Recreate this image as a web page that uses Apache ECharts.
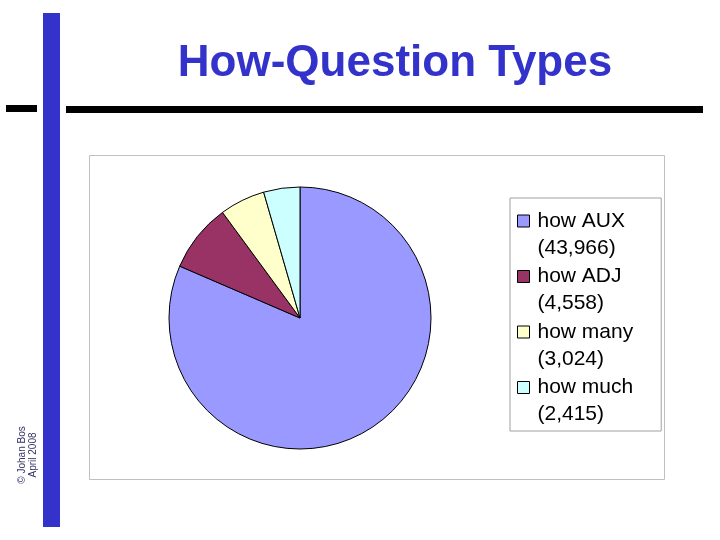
<!DOCTYPE html>
<html>
	<head>
		<meta charset="UTF-8">
		<title>How-Question Types</title>
		<script src="https://cdn.jsdelivr.net/npm/echarts@6/dist/echarts.min.js"></script>
		<style>
			html, body { margin: 0; padding: 0; background: #fff; }
			#main { width: 720px; height: 540px; }
		</style>
	</head>
	<body>
		<div id="main"></div>
		<script>
			// 数据
			var typeNames = ['how AUX', 'how ADJ', 'how many', 'how much'];
			var typeCounts = [43966, 4558, 3024, 2415];
			var typeColors = ['#9999FF', '#993366', '#FFFFCC', '#CCFFFF'];

			var pieData = [];
			for (var i = 0; i < typeNames.length; i++) {
				pieData.push({ name: typeNames[i], value: typeCounts[i], itemStyle: { color: typeColors[i] } });
			}

			function fmt(n) {
				return String(n).replace(/\B(?=(\d{3})+(?!\d))/g, ',');
			}

			var myChart = echarts.init(document.getElementById('main'));

			var option = {
				backgroundColor: '#fff',
				animation: false,
				title: {
					text: 'How-Question Types',
					left: 390,
					textAlign: 'center',
					top: 37,
					textStyle: {
						fontFamily: 'Liberation Sans, Arial, sans-serif',
						fontSize: 44,
						fontWeight: 'bold',
						color: '#3333CC'
					}
				},
				// 幻灯片装饰：竖条、横线、图表边框、版权
				graphic: [
					{ type: 'rect', shape: { x: 43, y: 13, width: 17, height: 514 }, style: { fill: '#3333CC' }, z: 1 },
					{ type: 'rect', shape: { x: 6, y: 105, width: 31, height: 7 }, style: { fill: '#000' } },
					{ type: 'rect', shape: { x: 66, y: 106, width: 637, height: 7 }, style: { fill: '#000' } },
					{ type: 'rect', shape: { x: 89.5, y: 155.5, width: 575, height: 324 }, style: { fill: 'none', stroke: '#c0c0c0', lineWidth: 1 }, z: 0 },
					{
						type: 'text', x: 28, y: 455, rotation: Math.PI / 2,
						style: {
							text: '\u00A9 Johan Bos\nApril 2008',
							fill: '#333366',
							font: '10px "Liberation Sans", Arial, sans-serif',
							align: 'center',
							verticalAlign: 'middle',
							lineHeight: 11
						}
					}
				],
				legend: {
					orient: 'vertical',
					left: 510,
					top: 198,
					padding: [-14, 28, 6, 7],
					itemGap: -19,
					itemWidth: 12,
					itemHeight: 12,
					icon: 'rect',
					borderColor: '#a0a0a0',
					borderWidth: 1,
					itemStyle: { borderColor: '#000', borderWidth: 1 },
					data: typeNames,
					formatter: function (name) {
						var idx = typeNames.indexOf(name);
						return '{e| }\n{a|' + name + '}\n{a|(' + fmt(typeCounts[idx]) + ')}';
					},
					textStyle: {
						padding: [0, 0, 0, 3],
						rich: {
							e: { fontSize: 20, lineHeight: 27 },
							a: { fontFamily: 'Liberation Sans, Arial, sans-serif', fontSize: 21, lineHeight: 27, color: '#000' }
						}
					}
				},
				series: [{
					name: 'How-Question Types',
					type: 'pie',
					center: [300, 318],
					radius: 131,
					startAngle: 90,
					clockwise: true,
					label: { show: false },
					labelLine: { show: false },
					itemStyle: { borderColor: '#000', borderWidth: 1 },
					emphasis: { disabled: true },
					data: pieData
				}]
			};

			myChart.setOption(option);
		</script>
	</body>
</html>
